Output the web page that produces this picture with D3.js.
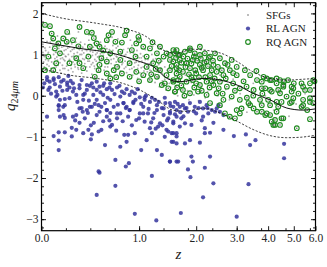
<!DOCTYPE html>
<html>
<head>
<meta charset="utf-8">
<script src="https://cdn.jsdelivr.net/npm/d3@7"></script>
<style>
body{margin:0;background:#fff}
text{font-family:"Liberation Serif","DejaVu Serif",serif}
</style>
</head>
<body>
<div id="chart"></div>
<script>
// series names for legend
const seriesNames = ["SFGs", "RL AGN", "RQ AGN"];
const xTicks = [0, 1, 2, 3, 4, 5, 6];
const yTicks = [-3, -2, -1, 0, 1, 2];

// [z, q24]
const sfg = [
 [0.01,1.25],[0.02,0.95],[0.03,1.1],[0.02,0.7],[0.04,1.32],[0.05,0.85],[0.05,1.05],[0.06,1.18],[0.07,0.92],[0.07,0.66],
 [0.08,1.12],[0.08,1.38],[0.09,0.78],[0.09,1.0],[0.03,0.88],[0.06,0.58],[0.01,1.05],[0.04,0.76],[0.1,1.22],[0.1,0.9],
 [0.11,1.05],[0.11,0.7],[0.12,1.28],[0.12,0.86],[0.13,0.98],[0.13,1.15],[0.14,0.62],[0.14,0.8],[0.15,1.08],[0.15,1.35],
 [0.16,0.92],[0.16,0.74],[0.17,1.2],[0.17,1.01],[0.18,0.85],[0.18,0.66],[0.19,1.12],[0.19,0.95],[0.2,1.3],[0.2,0.78],
 [0.12,1.45],[0.15,0.55],[0.17,0.88],[0.19,1.4],
 [0.21,1.0],[0.21,0.62],[0.22,1.18],[0.22,0.88],[0.23,0.74],[0.23,1.08],[0.24,1.26],[0.24,0.95],[0.25,0.82],[0.25,0.58],
 [0.26,1.14],[0.26,1.02],[0.27,0.7],[0.27,0.9],[0.28,1.22],[0.28,1.4],[0.29,0.8],[0.29,1.05],[0.3,0.96],[0.3,0.64],
 [0.31,1.12],[0.31,0.86],[0.32,1.3],[0.32,0.74],[0.33,1.0],[0.33,0.55],[0.34,1.18],[0.34,0.9],[0.22,1.5],[0.3,1.55],
 [0.35,1.04],[0.36,0.78],[0.36,1.25],[0.37,0.92],[0.38,0.6],[0.38,1.1],[0.39,0.84],[0.4,1.0],[0.4,1.35],[0.41,0.7],
 [0.42,1.16],[0.42,0.94],[0.43,0.52],[0.44,1.06],[0.44,0.8],[0.45,1.28],[0.46,0.88],[0.46,0.66],[0.47,1.0],[0.48,1.2],
 [0.48,0.76],[0.49,0.94],[0.5,1.1],[0.5,0.58],[0.51,0.84],[0.52,1.02],[0.52,1.3],[0.53,0.72],[0.54,0.9],[0.54,1.14],
 [0.4,1.48],[0.47,1.45],
 [0.55,0.98],[0.56,0.62],[0.57,1.2],[0.57,0.82],[0.58,1.06],[0.59,0.92],[0.6,0.7],[0.6,1.3],[0.61,0.86],[0.62,1.12],
 [0.63,0.96],[0.63,0.5],[0.64,0.78],[0.65,1.04],[0.66,1.22],[0.66,0.66],[0.67,0.9],[0.68,1.0],[0.69,0.58],[0.7,0.82],
 [0.7,1.16],[0.71,0.94],[0.72,0.72],[0.73,1.08],[0.74,0.86],[0.75,1.26],[0.75,0.6],[0.76,0.98],[0.77,0.76],[0.78,0.9],
 [0.79,1.12],[0.8,0.66],[0.65,1.42],[0.72,1.38],
 [0.81,0.84],[0.82,1.0],[0.83,0.56],[0.84,0.74],[0.85,1.15],[0.86,0.92],[0.87,0.64],[0.88,1.04],[0.89,0.8],[0.9,1.22],
 [0.91,0.5],[0.92,0.88],[0.93,0.7],[0.94,1.0],[0.95,0.6],[0.96,0.82],[0.97,1.1],[0.98,0.42],[0.99,0.74],[1.0,0.92],
 [1.01,0.56],[1.02,1.02],[1.03,0.68],[1.04,0.84],[1.05,0.46],[1.06,0.96],[1.07,0.6],[1.08,0.78],[1.09,1.12],[1.1,0.52],
 [0.88,1.35],[1.0,1.3],
 [1.12,0.7],[1.13,0.88],[1.15,0.4],[1.16,0.62],[1.18,0.8],[1.19,1.0],[1.21,0.5],[1.22,0.7],[1.24,0.32],[1.25,0.9],
 [1.27,0.58],[1.28,0.44],[1.3,0.76],[1.31,0.22],[1.33,0.62],[1.35,0.84],[1.36,0.36],[1.38,0.5],[1.4,0.7],[1.42,0.14],
 [1.44,0.3],[1.45,0.56],[1.47,0.42],[1.5,0.2],[1.52,0.64],[1.54,0.34],[1.56,0.06],[1.58,0.48],[1.6,0.22],[1.63,0.0],
 [1.65,0.36],[1.68,0.14],[1.2,1.2],[1.4,1.0],
 [1.72,0.28],[1.75,-0.05],[1.78,0.5],[1.82,0.12],[1.85,-0.1],[1.9,0.32],[1.95,0.02],[2.0,0.6],[2.05,-0.12],[2.1,0.2],
 [2.15,0.42],[2.2,-0.05],[2.25,0.1],[2.3,0.7],[2.35,-0.2],[2.4,0.3],[2.5,0.0],[2.55,0.5],[2.6,-0.25],[2.7,0.15],
 [2.8,-0.1],[2.9,0.4],[3.0,-0.3],[1.8,0.8],[2.0,0.9],[2.2,0.85],
 [3.1,0.05],[3.3,-0.4],[3.5,0.3],[3.7,-0.2],[3.9,0.0],[4.2,-0.35],[4.5,0.1],[4.8,-0.5],[5.1,-0.2],[5.5,0.05],
 [0.015,0.82],[0.025,1.16],[0.035,0.64],[0.045,1.0],[0.055,0.72],[0.065,1.3],[0.075,0.82],[0.085,1.22],[0.095,0.68],[0.105,1.06],
 [0.115,0.94],[0.125,0.74],[0.135,1.22],[0.145,0.9],[0.155,1.18],[0.165,0.66],[0.175,1.1],[0.185,0.96],[0.195,0.72],[0.205,1.16],
 [0.215,0.84],[0.235,0.66],[0.245,1.12],[0.255,0.96],[0.265,0.76],[0.275,1.3],[0.285,0.92],[0.295,0.68],[0.305,1.2],[0.315,1.0],
 [0.325,0.84],[0.335,1.1],[0.345,0.66],[0.355,0.88],[0.365,1.12],[0.375,0.7],[0.385,1.0],[0.395,1.22],[0.405,0.84],[0.415,1.08],
 [0.425,0.76],[0.435,0.98],[0.445,1.18],[0.455,0.72],[0.465,1.1],[0.475,0.84],[0.485,1.04],[0.495,0.66],[0.505,0.96],[0.515,1.2],
 [0.53,0.86],[0.55,1.08],[0.57,0.7],[0.59,1.14],[0.61,0.78],[0.62,1.0],[0.64,0.88],[0.66,1.1],[0.68,0.74],[0.7,0.96],
 [0.72,1.2],[0.74,0.7],[0.76,1.06],[0.78,0.8],[0.8,0.98],[0.82,0.7],[0.84,1.06],[0.86,0.78],[0.88,0.9],[0.9,0.66],
 [0.92,1.04],[0.94,0.8],[0.96,0.96],[0.98,0.66],[1.0,0.82],[1.03,0.92],[1.06,0.7],[1.09,0.88],[1.12,0.58],[1.15,0.78],
 [1.18,0.6],[1.21,0.88],[1.24,0.52],[1.27,0.72],[1.3,0.46],[1.33,0.66],[1.36,0.54],[1.4,0.4],[1.44,0.62],[1.48,0.3]
];

const rlAgn = [
 [0.04,-0.51],[0.13,-0.23],[0.13,-0.35],[0.17,-0.47],[0.18,-0.23],[0.18,-0.54],[0.25,-0.51],[0.31,-0.66],[0.33,-0.30],[0.34,-0.39],
 [0.38,-0.35],[0.39,-0.42],[0.43,-0.27],[0.45,-0.66],[0.50,-0.23],[0.51,-0.39],[0.53,-0.27],[0.57,-0.18],[0.59,-0.35],[0.59,-0.51],
 [0.63,-0.42],[0.65,-0.71],[0.67,-0.27],[0.71,-0.55],[0.75,-0.43],[0.79,-0.18],[0.83,-0.27],[0.85,-0.51],[0.87,-0.35],[0.92,-0.18],
 [0.96,-0.59],[1.01,-0.43],[1.06,-0.27],[1.08,-0.63],[1.13,-0.43],[1.16,-0.79],[1.21,-0.55],[1.27,-0.35],[1.32,-0.67],[1.38,-0.47],
 [1.43,-0.83],[1.46,-0.55],[1.55,-0.67],[1.61,-0.91],
 [0.09,-0.98],[0.13,-0.89],[0.13,-1.09],[0.13,-1.32],[0.18,-0.89],[0.24,-0.99],[0.28,-0.83],[0.345,-0.91],[0.395,-0.83],[0.43,-0.94],
 [0.42,-1.06],[0.50,-0.87],[0.53,-0.83],[0.57,-1.20],[0.63,-0.75],[0.75,-1.24],[0.83,-1.12],[0.85,-0.95],[0.94,-0.91],[1.03,-1.32],
 [1.11,-1.08],[1.19,-0.91],[1.27,-1.32],[1.29,-0.75],[1.35,-1.44],[1.46,-0.87],[1.52,-1.12],[1.55,-0.91],[1.61,-1.16],[1.64,-1.60],
 [1.49,-1.60],
 [0.69,-1.56],[0.86,-1.64],[0.82,-1.72],[0.50,-1.84],[0.51,-1.87],[0.69,-2.19],[1.19,-1.95],[0.48,-2.41],[0.94,-2.87],[1.26,-3.03],
 [0.04,0.45],[0.06,0.34],[0.01,0.20],[0.05,0.14],[0.09,0.38],[0.13,0.45],[0.17,0.38],[0.20,0.32],[0.22,0.20],[0.14,0.22],
 [0.11,0.10],[0.20,0.14],[0.25,0.10],[0.28,0.02],[0.345,0.02],[0.31,0.26],[0.38,0.14],[0.41,0.24],[0.445,0.02],[0.48,0.14],
 [0.51,0.22],[0.55,0.02],[0.59,0.16],[0.21,0.48],[0.14,-0.10],[0.13,-0.25],
 [0.04,0.38],[0.09,0.42],[0.06,0.20],[0.15,0.34],[0.20,0.26],[0.25,0.30],[0.31,0.18],[0.38,0.26],[0.445,0.20],[0.48,0.34],
 [0.55,0.24],[0.63,0.30],[0.65,0.14],[0.71,0.20],[0.77,0.10],[0.83,0.16],[0.87,0.02],[0.94,0.06],[1.01,-0.04],[1.08,-0.10],
 [1.16,-0.15],[1.27,-0.23],[1.38,-0.31],[1.49,-0.43],[1.61,-0.51],[0.11,-0.02],[0.22,-0.06],[0.345,-0.10],[0.48,-0.10],[0.63,-0.10],
 [0.79,-0.18],[0.167,-0.27],[0.31,-0.31],[0.41,-0.27],[0.59,-0.35],[0.71,-0.43],[0.87,-0.35],[1.06,-0.43],[0.14,-0.51],[0.28,-0.47],
 [0.48,-0.47],[0.92,-0.15],[0.75,-0.02],
 [1.49,-0.39],[1.55,-0.27],[1.61,-0.35],[1.73,-0.23],[1.83,-0.39],[1.70,-0.55],[1.55,-0.63],[1.77,-0.67],[1.90,-0.71],[1.67,-0.75],
 [1.52,-0.91],[1.61,-0.99],[1.55,-1.12],[1.77,-1.16],[1.87,-1.08],[2.08,-1.14],[2.19,-0.91],[2.31,-0.90],[2.19,-0.79],[2.39,-0.66],
 [2.64,-0.83],[2.92,-0.98],[3.27,-0.94],[3.57,-1.08],[3.40,-1.20],[4.6,-1.17],[4.6,-1.52],[1.49,-1.60],[1.61,-1.60],[1.90,-1.48],
 [1.93,-1.60],[2.31,-1.48],[1.83,-1.79],[2.19,-1.75],[1.88,-1.98],[2.39,-2.13],[3.35,-2.15],[2.15,-2.47],[1.69,-2.85],[3.0,-2.94],
 [2.27,-0.43],[2.43,-0.39],[2.64,-0.47],[2.15,-0.51],[2.0,-0.43],[2.51,-0.23],
 [1.49,-0.18],[1.58,-0.15],[1.67,-0.27],[1.77,-0.31],[1.87,-0.18],[1.97,-0.27],[2.08,-0.15],[2.15,-0.31],[2.23,-0.23],[2.35,-0.35],
 [2.47,-0.31],[2.55,-0.39],[1.08,-0.04],[1.24,-0.10],[1.41,-0.18],
 [0.02,0.3],[0.07,0.05],[0.1,0.28],[0.12,0.02],[0.16,0.12],[0.18,-0.08],[0.23,0.36],[0.26,0.18],[0.29,-0.15],[0.33,0.38],
 [0.36,0.05],[0.4,-0.12],[0.43,0.3],[0.46,-0.2],[0.52,0.08],[0.56,0.3],[0.6,-0.05],[0.62,0.2],[0.68,0.04],[0.72,-0.22],
 [0.74,0.24],[0.8,0.06],[0.82,-0.3],[0.9,0.1],[0.95,-0.1],[0.98,0.16],[1.03,-0.2],[1.1,0.0],[1.14,-0.32],[1.19,-0.05],
 [1.23,-0.42],[1.3,-0.15],[1.35,-0.3],[1.4,-0.05],[1.44,-0.6],[1.5,-0.25],[1.58,-0.45],[1.63,-0.2],[1.68,-0.4],[1.74,-0.5],
 [1.8,-0.3],[1.95,-0.38],[2.05,-0.3],[2.12,-0.6],[2.25,-0.3],[0.27,-0.6],[0.36,-0.55],[0.55,-0.62],[0.62,-0.6],[0.78,-0.62],
 [0.9,-0.72],[1.0,-0.55],[1.18,-0.65],[1.25,-0.8],[1.36,-0.72],[1.4,-1.0],[0.7,-0.85],[0.8,-0.95],[0.24,-0.78],[0.42,-0.72]
];

const rqAgn = [
 [0.025,1.72],[0.062,1.69],[0.075,1.51],[0.087,1.39],[0.31,1.67],[0.38,1.55],[0.43,1.53],[0.61,1.47],[0.59,1.35],[0.69,1.31],
 [0.77,1.29],[0.83,1.58],[0.81,1.47],[0.96,1.27],[0.99,1.43],[1.06,1.19],[0.167,1.39],[0.196,1.31],[0.25,1.35],[0.127,1.27],
 [0.48,1.27],[0.51,1.19],[0.41,1.19],[0.14,1.03],[0.11,0.79],[0.22,0.79],[0.31,0.79],[0.28,0.91],[0.395,0.95],[0.53,0.91],
 [0.59,0.83],[0.51,0.75],[0.59,0.54],[0.71,0.70],[0.63,0.42],[0.46,0.46],[0.087,0.62],[0.025,0.62],[0.75,0.87],[0.87,0.79],
 [0.87,0.46],[0.96,0.58],[1.06,0.50],[1.16,0.38],[1.11,0.70],[1.21,0.79],[1.32,0.62],[1.43,0.50],[1.55,0.34],[1.27,1.03],
 [1.38,0.95],[1.49,0.87],[1.61,0.75],[1.16,1.15],[1.32,1.19],[1.43,1.03],[1.55,1.11],[1.64,0.99],[1.11,0.95],[1.49,0.62],
 [1.61,0.54],[0.90,1.11],[0.75,1.07],[0.63,1.03],[1.64,0.38],[1.35,0.26],[1.46,0.18],[1.58,0.10],[1.27,0.46],[0.50,0.62],
 [0.67,0.62],[0.345,0.67],[0.77,0.54],
 [1.49,0.99],[1.58,1.03],[1.67,0.99],[1.77,1.07],[1.87,1.11],[1.97,1.03],[2.08,0.99],[2.19,1.03],[2.31,0.95],[2.43,1.03],
 [1.55,0.83],[1.67,0.87],[1.80,0.79],[1.93,0.87],[2.08,0.75],[2.23,0.83],[2.39,0.75],[2.55,0.91],[2.68,0.79],[2.86,0.87],
 [3.0,0.70],[3.24,0.62],[1.61,0.67],[1.73,0.58],[1.87,0.67],[2.0,0.54],[2.15,0.62],[2.31,0.50],[2.47,0.58],[2.64,0.50],
 [2.81,0.62],[3.0,0.50],[3.40,0.50],[3.62,0.38],[3.84,0.46],[4.07,0.38],[4.31,0.42],[4.57,0.26],[4.76,0.38],[4.98,0.18],
 [5.41,0.22],[5.73,0.14],[5.89,0.38],[1.55,0.38],[1.67,0.46],[1.80,0.34],[1.93,0.38],[2.08,0.26],[2.23,0.34],[2.39,0.26],
 [2.55,0.34],[2.73,0.22],[2.90,0.30],[3.09,0.18],[3.29,0.22],[3.51,0.14],[3.78,0.18],[4.07,0.14],[4.44,0.06],[4.70,-0.02],
 [3.72,-0.10],[4.07,-0.23],[4.31,-0.15],[5.41,-0.10],[5.73,-0.06],[1.58,0.10],[1.73,0.14],[1.87,0.06],[2.04,0.10],[2.23,0.02],
 [2.47,0.06],[2.64,-0.10],[2.86,-0.02],[3.09,-0.10],[3.35,-0.18],[3.51,-0.31],[1.87,1.15],[1.61,1.11],[2.08,1.19],
 [2.68,-0.43],[2.81,-0.51],[2.95,-0.55],[3.09,-0.43],[3.14,-0.31],[3.62,-0.39],[3.90,-0.47],[4.07,-0.47],[4.31,-0.39],[4.13,-0.63],
 [4.25,-0.71],[4.50,-0.55],[4.44,-0.71],[5.13,-0.79],[3.40,-0.23],[4.84,-0.18],[5.34,-0.27],[5.89,-0.18],[2.55,-0.23],[2.31,-0.18],
 [3.0,-0.35],
 [3.78,0.34],[3.95,0.42],[4.13,0.38],[4.31,0.30],[4.44,0.38],[3.90,0.18],[4.13,0.10],[4.37,0.14],[4.57,0.22],[4.91,0.22],
 [5.34,0.30],[5.73,0.30],[5.50,0.14],[4.91,0.10],[4.98,-0.06],[4.91,-0.15],[4.50,-0.15],[5.41,-0.23],[5.73,-0.15],[4.37,-0.27],
 [3.78,-0.39],[3.95,-0.43],[4.25,-0.59],[4.19,-0.71],[4.57,-0.55],[5.73,-0.57],[3.78,-0.23],
 [1.52,0.72],[1.6,0.92],[1.66,0.62],[1.7,0.8],[1.74,0.95],[1.78,0.7],[1.82,0.9],[1.85,0.52],[1.9,0.78],[1.95,0.95],
 [1.98,0.62],[2.02,0.85],[2.06,0.45],[2.1,0.9],[2.12,0.68],[2.18,0.8],[2.2,0.45],[2.26,0.72],[2.28,0.92],[2.35,0.62],
 [2.38,0.85],[2.42,0.42],[2.5,0.7],[2.52,0.18],[2.6,0.62],[2.62,0.05],[2.7,0.42],[2.75,0.75],[2.9,0.55],[2.95,0.12],
 [1.7,0.25],[1.76,0.0],[1.96,0.2],[2.12,0.12],[2.3,0.2],[1.62,0.2],[1.9,0.45],[2.0,0.3],[2.35,0.35],[1.4,0.3],
 [1.3,0.85],[1.25,0.65],[1.18,0.52],[1.0,0.35],[0.95,0.95],[0.7,0.45],[0.55,1.1],[0.3,1.2],[0.05,0.95],[0.1,1.15],
 [0.2,1.55],[0.45,1.4],[0.65,1.55],[1.0,1.35],[1.2,1.3],[3.2,0.35],[3.5,0.0],[3.6,0.6],[3.3,-0.05],[3.8,0.05],
 [4.0,-0.1],[4.6,0.35],[5.0,0.3],[5.2,0.05],[5.6,-0.35],[5.95,0.35]
];

// median and envelope curves
const upperLine = [[0,2.0],[0.165,1.88],[0.48,1.76],[0.83,1.62],[1.11,1.43],[1.37,1.11],[1.62,1.03],[1.87,1.13],[2.55,1.04],[3.01,0.83],[3.49,0.58],[4.07,0.42],[4.71,0.38],[5.4,0.40],[6.0,0.42]];
const midLine = [[0,1.31],[0.31,1.15],[0.66,1.03],[1.01,0.83],[1.21,0.71],[1.44,0.42],[1.67,0.34],[2.15,0.42],[2.55,0.38],[3.01,0.26],[3.49,0.06],[4.07,-0.10],[4.71,-0.30],[5.4,-0.35],[6.0,-0.32]];
const lowerLine = [[0,0.66],[0.22,0.50],[0.48,0.42],[0.78,0.30],[1.01,0.14],[1.27,-0.10],[1.54,-0.35],[1.8,-0.38],[2.15,-0.30],[2.55,-0.42],[3.01,-0.62],[3.49,-0.82],[4.07,-0.97],[4.71,-1.02],[5.27,-1.01],[6.0,-0.96]];

function chartConfig(){
    let width = 327, height = 267;
    let margin = {top: 2.7, bottom: 36.3, left: 41.5, right: 11.5};
    let bodyWidth = width - margin.left - margin.right;
    let bodyHeight = height - margin.top - margin.bottom;
    let svg = d3.select("#chart").append("svg")
        .attr("width", width).attr("height", height);
    let container = svg.append("g")
        .attr("transform", "translate(" + [margin.left, margin.top] + ")");
    return {width, height, margin, bodyWidth, bodyHeight, svg, container};
}

function chartScales(config){
    let {bodyWidth, bodyHeight} = config;
    // x axis is linear in log(1+z)
    let xScale = d3.scaleSymlog().constant(1).domain([0, 6]).range([0, bodyWidth]);
    let yScale = d3.scaleLinear().domain([-3.28, 2.26]).range([bodyHeight, 0]);
    return {xScale, yScale};
}

function drawAxes(config, scales){
    let {bodyWidth, bodyHeight, container} = config;
    let {xScale, yScale} = scales;
    let xMinor = d3.range(1, 12).map(k => Math.pow(2, k / 4) - 1);
    let yMinor = d3.range(-16, 12).map(i => i * 0.2);

    let axes = [
        [d3.axisBottom(xScale).tickValues(xTicks).tickFormat(d3.format(".1f")).tickSize(-4.5).tickPadding(3), [0, bodyHeight]],
        [d3.axisBottom(xScale).tickValues(xMinor).tickFormat("").tickSize(-2.5), [0, bodyHeight]],
        [d3.axisTop(xScale).tickValues(xTicks).tickFormat("").tickSize(-4.5), [0, 0]],
        [d3.axisTop(xScale).tickValues(xMinor).tickFormat("").tickSize(-2.5), [0, 0]],
        [d3.axisLeft(yScale).tickValues(yTicks).tickFormat(d3.format("d")).tickSize(-4.5).tickPadding(3), [0, 0]],
        [d3.axisLeft(yScale).tickValues(yMinor).tickFormat("").tickSize(-2.5), [0, 0]],
        [d3.axisRight(yScale).tickValues(yTicks).tickFormat("").tickSize(-4.5), [bodyWidth, 0]],
        [d3.axisRight(yScale).tickValues(yMinor).tickFormat("").tickSize(-2.5), [bodyWidth, 0]]
    ];
    axes.forEach(function(a){
        let g = container.append("g")
            .attr("transform", "translate(" + a[1] + ")")
            .call(a[0]);
        g.select(".domain").remove();
        g.selectAll("line").attr("stroke", "#000").attr("stroke-width", 0.9);
        g.selectAll("text").attr("fill", "#222").style("font-size", "11.5px")
            .style("font-family", '"Liberation Serif","DejaVu Serif",serif');
    });

    container.append("rect")
        .attr("width", bodyWidth).attr("height", bodyHeight)
        .attr("fill", "none").attr("stroke", "#000").attr("stroke-width", 1.2);

    // axis titles
    config.svg.append("text")
        .attr("x", config.margin.left + bodyWidth / 2).attr("y", 259)
        .attr("text-anchor", "middle")
        .style("font-style", "italic").style("font-size", "15px").attr("fill", "#222")
        .text("z");

    let yl = config.svg.append("text")
        .attr("transform", "translate(15,96) rotate(-90)")
        .attr("text-anchor", "middle").attr("fill", "#222")
        .style("font-size", "15px");
    yl.append("tspan").style("font-style", "italic").text("q");
    yl.append("tspan").attr("dy", 3).style("font-size", "10px").text("24");
    yl.append("tspan").style("font-size", "10px").style("font-style", "italic").text("μm");
}

function drawPoints(config, scales){
    let {container} = config;
    let {xScale, yScale} = scales;
    let plot = container.append("g");

    plot.selectAll(".sfg").data(sfg).enter().append("circle")
        .attr("class", "sfg")
        .attr("cx", d => xScale(d[0])).attr("cy", d => yScale(d[1]))
        .attr("r", 0.95).attr("fill", "#777").attr("opacity", 0.6);

    plot.selectAll(".rl").data(rlAgn).enter().append("circle")
        .attr("class", "rl")
        .attr("cx", d => xScale(d[0])).attr("cy", d => yScale(d[1]))
        .attr("r", 2.1).attr("fill", "#35359e").attr("opacity", 0.85);

    plot.selectAll(".rq").data(rqAgn).enter().append("circle")
        .attr("class", "rq")
        .attr("cx", d => xScale(d[0])).attr("cy", d => yScale(d[1]))
        .attr("r", 2.35).attr("fill", "none").attr("stroke", "#1f8a1f").attr("stroke-width", 1.1);

    plot.selectAll(".rqc").data(rqAgn).enter().append("circle")
        .attr("class", "rqc")
        .attr("cx", d => xScale(d[0])).attr("cy", d => yScale(d[1]))
        .attr("r", 0.7).attr("fill", "#555");

    let line = d3.line()
        .x(d => xScale(d[0])).y(d => yScale(d[1]))
        .curve(d3.curveMonotoneX);
    [[upperLine, "2.2,1.6", 0.8], [midLine, null, 1], [lowerLine, "2.2,1.6", 0.8]].forEach(function(l){
        plot.append("path")
            .attr("d", line(l[0]))
            .attr("fill", "none").attr("stroke", "#111")
            .attr("stroke-width", l[2])
            .attr("stroke-dasharray", l[1]);
    });
}

function legend(config){
    let {svg} = config;
    let g = svg.append("g");
    let rows = seriesNames.map((name, i) => ({name, i}));
    g.selectAll("text").data(rows).enter().append("text")
        .attr("x", 266).attr("y", d => 18.5 + d.i * 13.5)
        .attr("fill", "#222").style("font-size", "11px")
        .text(d => d.name);
    g.append("circle").attr("cx", 248).attr("cy", 15).attr("r", 0.8).attr("fill", "#666");
    g.append("circle").attr("cx", 248).attr("cy", 28.5).attr("r", 2.1).attr("fill", "#35359e").attr("opacity", 0.85);
    g.append("circle").attr("cx", 248).attr("cy", 42).attr("r", 2.35).attr("fill", "none").attr("stroke", "#1f8a1f").attr("stroke-width", 1.1);
}

let config = chartConfig();
let scales = chartScales(config);
drawPoints(config, scales);
drawAxes(config, scales);
legend(config);
</script>
</body>
</html>
